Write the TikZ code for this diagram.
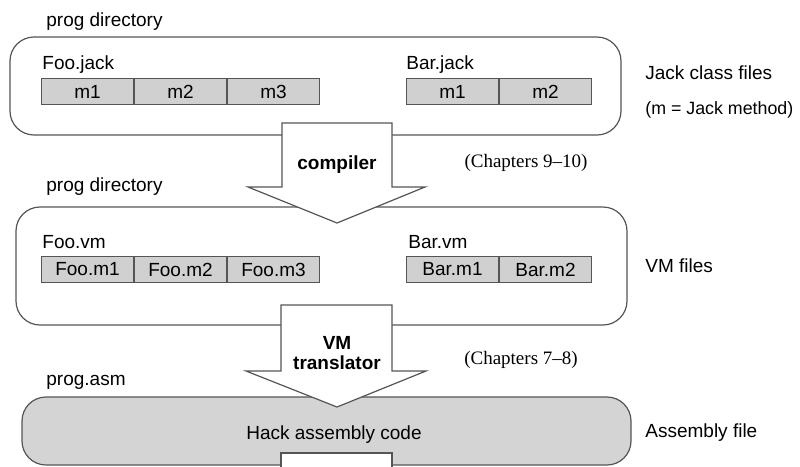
\documentclass[tikz,border=0pt]{standalone}
\usepackage{fontspec}
\setmainfont{Liberation Sans}
\newfontfamily\chapfont[Ligatures=TeX]{Liberation Serif}
\usetikzlibrary{positioning}
\definecolor{linegray}{RGB}{85,85,85}
\definecolor{cellgray}{RGB}{208,208,208}
\definecolor{asmgray}{RGB}{212,212,212}
\tikzset{
  dirbox/.style={draw=linegray, line width=0.6pt, rounded corners=12pt},
  cell/.style={draw=linegray, fill=cellgray, line width=0.5pt, minimum width=46pt,
    minimum height=13pt, inner sep=0pt, font=\fontsize{9.5}{11}\selectfont},
  lbl/.style={anchor=west, inner sep=0pt, font=\fontsize{9.5}{11}\selectfont},
  bigarrow/.style={draw=linegray, fill=white, line width=0.6pt, line join=miter},
  tool/.style={inner sep=0pt, align=center, font=\bfseries\fontsize{9.5}{10}\selectfont},
  chap/.style={inner sep=0pt, font=\chapfont\fontsize{9.5}{11}\selectfont},
}
\begin{document}
\begin{tikzpicture}[x=0.5pt, y=-0.5pt]
  \useasboundingbox (0,0) rectangle (800,467);
  \clip (0,0) rectangle (800,467);
  % Diretorios
  \draw[dirbox] (10,37) rectangle (621,135);
  \draw[dirbox] (16,207) rectangle (627,325);
  \draw[dirbox, fill=asmgray] (22,397) rectangle (631,465);
  % Setas
  \draw[bigarrow] (282,123) -- (392,123) -- (392,187) -- (425,187) -- (337,223)
    -- (248,187) -- (282,187) -- cycle;
  \draw[bigarrow] (281,305) -- (392,305) -- (392,371) -- (426,371) -- (337,407)
    -- (246,371) -- (281,371) -- cycle;
  \draw[bigarrow] (281,453) rectangle (392,490);
  \node[tool] (compiler) at (337,165) {compiler};
  \node[tool] (vmtrans) at (337,353) {VM\\translator};
  \node[chap] (chap1) at (526,163) {(Chapters 9–10)};
  \node[chap] (chap2) at (521,360) {(Chapters 7–8)};
  % Arquivos Jack
  \node[lbl] (dir1) at (46,22) {prog directory};
  \node[lbl] (foojack) at (42,65) {Foo.jack};
  \node[cell, anchor=north west] (fj1) at (41,78) {m1};
  \node[cell, right=0pt of fj1] (fj2) {m2};
  \node[cell, right=0pt of fj2] (fj3) {m3};
  \node[lbl] (barjack) at (406,65) {Bar.jack};
  \node[cell, anchor=north west] (bj1) at (406,78) {m1};
  \node[cell, right=0pt of bj1] (bj2) {m2};
  \node[lbl] (jackfiles) at (645,73) {Jack class files};
  \node[lbl, font=\fontsize{8.9}{11}\selectfont] (jacknote) at (645,110) {(m = Jack method)};
  % Arquivos VM
  \node[lbl] (dir2) at (46,187) {prog directory};
  \node[lbl] (foovm) at (42,242) {Foo.vm};
  \node[cell, anchor=north west] (fv1) at (41,256) {Foo.m1};
  \node[cell, right=0pt of fv1] (fv2) {Foo.m2};
  \node[cell, right=0pt of fv2] (fv3) {Foo.m3};
  \node[lbl] (barvm) at (408,242) {Bar.vm};
  \node[cell, anchor=north west] (bv1) at (406,256) {Bar.m1};
  \node[cell, right=0pt of bv1] (bv2) {Bar.m2};
  \node[lbl] (vmfiles) at (645,266) {VM files};
  % Assembly
  \node[lbl] (progasm) at (46,382) {prog.asm};
  \node[inner sep=0pt, font=\fontsize{9.5}{11}\selectfont] (hack) at (334,435) {Hack assembly code};
  \node[lbl] (asmfile) at (645,433) {Assembly file};
\end{tikzpicture}
\end{document}
